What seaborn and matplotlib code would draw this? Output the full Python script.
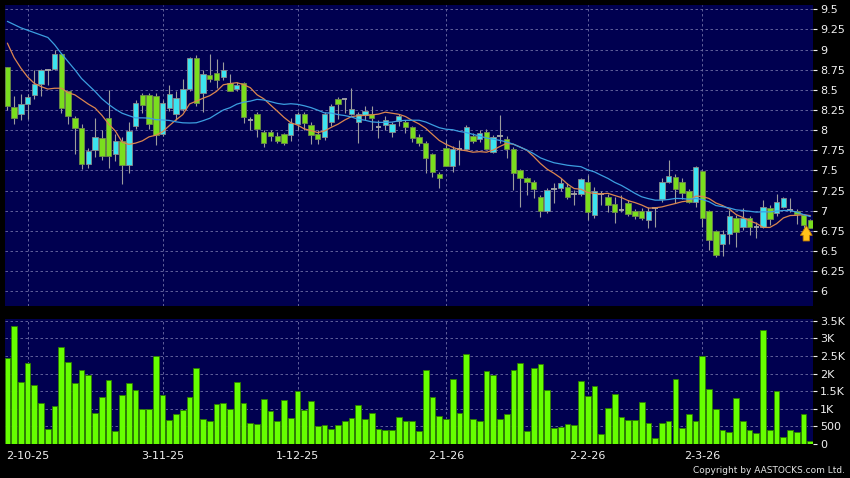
import matplotlib
matplotlib.use('Agg')
import matplotlib.pyplot as plt
import numpy as np
import pandas as pd
import seaborn as sns

# Daily candles (oldest first)
opens = [8.78, 8.29, 8.20, 8.32, 8.43, 8.57, 8.75, 8.76, 8.95, 8.48,
         8.15, 8.03, 7.58, 7.75, 7.90, 8.15, 7.70, 7.87, 7.57, 8.05,
         8.44, 8.44, 8.42, 7.95, 8.27, 8.20, 8.26, 8.51, 8.89, 8.46,
         8.69, 8.71, 8.66, 8.58, 8.51, 8.59, 8.13, 8.20, 7.98, 7.98,
         7.93, 7.95, 7.94, 8.08, 8.20, 8.06, 7.95, 7.92, 8.10, 8.39,
         8.39, 8.20, 8.10, 8.19, 8.20, 8.04, 8.06, 7.98, 8.11, 8.10,
         8.04, 7.92, 7.84, 7.70, 7.46, 7.78, 7.56, 7.77, 7.77, 7.93,
         7.89, 7.98, 7.73, 7.93, 7.89, 7.77, 7.51, 7.40, 7.36, 7.17,
         7.00, 7.27, 7.28, 7.30, 7.21, 7.21, 7.36, 6.95, 7.21, 7.17,
         7.08, 7.01, 7.09, 7.00, 7.00, 6.89, 7.03, 7.15, 7.36, 7.42,
         7.36, 7.25, 7.11, 7.49, 7.00, 6.75, 6.59, 6.71, 6.91, 6.80,
         6.91, 6.80, 6.80, 7.03, 6.97, 7.05, 7.01, 7.00, 6.95, 6.89]
highs = [8.78, 8.42, 8.45, 8.45, 8.75, 8.76, 8.76, 9.00, 8.96, 8.49,
         8.17, 8.08, 7.78, 8.15, 8.00, 8.50, 7.95, 7.92, 8.10, 8.38,
         8.46, 8.46, 8.46, 8.38, 8.56, 8.48, 8.64, 8.91, 8.93, 8.75,
         8.94, 8.88, 8.85, 8.70, 8.60, 8.60, 8.16, 8.23, 8.00, 8.00,
         7.98, 7.97, 8.15, 8.22, 8.22, 8.10, 8.00, 8.22, 8.33, 8.41,
         8.40, 8.52, 8.22, 8.30, 8.30, 8.13, 8.17, 8.10, 8.20, 8.12,
         8.05, 7.95, 7.86, 7.72, 7.48, 7.88, 7.80, 7.88, 8.06, 7.96,
         8.00, 8.02, 7.94, 8.19, 7.93, 7.79, 7.52, 7.42, 7.38, 7.20,
         7.28, 7.34, 7.40, 7.34, 7.26, 7.41, 7.44, 7.30, 7.25, 7.21,
         7.17, 7.19, 7.13, 7.02, 7.03, 7.04, 7.05, 7.40, 7.63, 7.46,
         7.40, 7.27, 7.55, 7.51, 7.01, 6.76, 6.76, 7.01, 6.95, 7.03,
         6.93, 6.86, 7.13, 7.07, 7.21, 7.17, 7.16, 7.02, 6.96, 6.90]
lows = [8.25, 8.08, 8.13, 8.14, 8.39, 8.42, 8.56, 8.75, 8.21, 8.08,
        7.71, 7.52, 7.53, 7.67, 7.63, 7.53, 7.62, 7.33, 7.47, 8.02,
        8.21, 8.02, 7.81, 7.93, 8.24, 8.13, 8.24, 8.48, 8.30, 8.23,
        8.60, 8.52, 8.62, 8.48, 8.48, 8.09, 8.00, 7.91, 7.79, 7.86,
        7.84, 7.82, 7.87, 8.00, 8.00, 7.83, 7.83, 7.88, 8.05, 8.14,
        8.21, 8.19, 7.84, 8.12, 8.00, 7.90, 8.00, 7.92, 8.05, 7.96,
        7.85, 7.80, 7.47, 7.42, 7.28, 7.55, 7.48, 7.57, 7.75, 7.84,
        7.85, 7.76, 7.72, 7.84, 7.65, 7.26, 7.05, 7.20, 7.16, 6.92,
        6.97, 7.10, 7.24, 7.14, 7.07, 7.18, 6.89, 6.91, 7.07, 6.99,
        6.85, 6.98, 6.94, 6.90, 6.88, 6.79, 6.80, 7.11, 7.34, 7.10,
        7.14, 7.09, 7.05, 6.80, 6.51, 6.42, 6.44, 6.59, 6.55, 6.76,
        6.70, 6.66, 6.78, 6.82, 6.94, 7.03, 6.98, 6.84, 6.78, 6.78]
closes = [8.30, 8.15, 8.32, 8.41, 8.57, 8.75, 8.75, 8.94, 8.28, 8.18,
          8.03, 7.58, 7.74, 7.92, 7.68, 7.68, 7.86, 7.57, 7.99, 8.34,
          8.31, 8.08, 7.94, 8.34, 8.45, 8.40, 8.51, 8.89, 8.34, 8.70,
          8.63, 8.62, 8.75, 8.49, 8.56, 8.16, 8.13, 8.01, 7.84, 7.93,
          7.87, 7.84, 8.09, 8.20, 8.09, 7.94, 7.89, 8.20, 8.30, 8.32,
          8.39, 8.26, 8.20, 8.24, 8.15, 8.04, 8.13, 8.07, 8.17, 8.04,
          7.90, 7.84, 7.65, 7.48, 7.40, 7.56, 7.76, 7.77, 8.04, 7.86,
          7.97, 7.77, 7.92, 7.93, 7.77, 7.47, 7.40, 7.36, 7.27, 7.00,
          7.26, 7.27, 7.34, 7.17, 7.21, 7.39, 6.99, 7.25, 7.21, 7.07,
          6.99, 7.01, 6.96, 6.93, 6.91, 7.00, 7.03, 7.36, 7.43, 7.27,
          7.22, 7.11, 7.54, 6.91, 6.64, 6.45, 6.71, 6.93, 6.74, 6.91,
          6.80, 6.80, 7.04, 6.90, 7.11, 7.16, 7.01, 6.96, 6.82, 6.79]
volumes = [2437, 3360, 1771, 2313, 1666, 1171, 428, 1076, 2742, 2342,
           1723, 2104, 1971, 876, 1323, 1818, 371, 1399, 1723, 1542,
           981, 981, 2504, 1399, 685, 866, 971, 1333, 2171, 724,
           647, 1142, 1161, 1000, 1771, 1152, 600, 581, 1276, 942,
           666, 1257, 733, 1514, 971, 1219, 505, 533, 419, 543,
           647, 743, 1095, 714, 885, 438, 409, 390, 762, 666,
           666, 362, 2104, 1342, 809, 714, 1856, 885, 2561, 704,
           657, 2075, 1971, 704, 866, 2094, 2313, 362, 2151, 2266,
           1533, 457, 486, 571, 543, 1780, 1371, 1637, 276, 1028,
           1428, 762, 676, 695, 1200, 590, 171, 600, 647, 1837,
           447, 866, 657, 2513, 1552, 981, 409, 343, 1314, 666,
           409, 305, 3227, 409, 1504, 200, 409, 343, 847, 76]

# moving averages for the first days (window reaches back before the chart)
ma10_head = [9.08, 8.90, 8.77, 8.66, 8.58, 8.54, 8.51, 8.52, 8.52]
ma20_head = [9.35, 9.31, 9.27, 9.24, 9.21, 9.18, 9.15, 9.06, 8.95, 8.85,
             8.75, 8.64, 8.56, 8.48, 8.39, 8.32, 8.26, 8.21, 8.18]

date_ticks = [3, 23, 43, 65, 86, 103]
date_labels = ['2-10-25', '3-11-25', '1-12-25', '2-1-26', '2-2-26', '2-3-26']
price_ticks = [6, 6.25, 6.5, 6.75, 7, 7.25, 7.5, 7.75, 8, 8.25, 8.5, 8.75, 9, 9.25, 9.5]
vol_ticks = [0, 500, 1000, 1500, 2000, 2500, 3000, 3500]
vol_labels = ['0', '500', '1K', '1.5K', '2K', '2.5K', '3K', '3.5K']

df = pd.DataFrame({'open': opens, 'high': highs, 'low': lows,
                   'close': closes, 'volume': volumes})
df['idx'] = np.arange(len(df))
df['ma10'] = df.close.rolling(10).mean()
df['ma20'] = df.close.rolling(20).mean()
df.loc[:len(ma10_head) - 1, 'ma10'] = ma10_head
df.loc[:len(ma20_head) - 1, 'ma20'] = ma20_head

sns.set_style('dark')
plt.rcParams['font.family'] = ['DejaVu Sans']

BG = '#000050'
GRID = '#6e6ea6'
UP = '#3ce4f0'
DOWN = '#7ade1e'
TXT = '#f0f0f0'

fig = plt.figure(figsize=(8.5, 4.78), dpi=100, facecolor='black')
ax = fig.add_axes([0.0059, 0.3598, 0.9506, 0.6297], facecolor=BG)
axv = fig.add_axes([0.0059, 0.0711, 0.9506, 0.2615], facecolor=BG)

# candles
up = df[df.close > df.open]
down = df[df.close < df.open]
flat = df[df.close == df.open]
ax.vlines(df.idx, df.low, df.high, color='#9c9c9c', lw=0.8, zorder=2)
ax.bar(up.idx, up.close - up.open, bottom=up.open, width=0.8,
       color=UP, edgecolor='#8a8a8a', linewidth=0.6, zorder=3)
ax.bar(down.idx, down.open - down.close, bottom=down.close, width=0.8,
       color=DOWN, edgecolor='#6f8a4a', linewidth=0.6, zorder=3)
ax.hlines(flat.close, flat.idx - 0.4, flat.idx + 0.4, color='#a8a8a8', lw=1.3, zorder=3)

sns.lineplot(data=df, x='idx', y='ma10', color='#dc864e', lw=0.9, ax=ax, zorder=4)
sns.lineplot(data=df, x='idx', y='ma20', color='#3c9ee0', lw=0.9, ax=ax, zorder=4)

# marker arrow under the latest candle
last = df.iloc[-1]
ax.annotate('', xy=(last.idx - 0.6, last.close + 0.06),
            xytext=(last.idx - 0.6, last.close - 0.2),
            arrowprops=dict(arrowstyle='simple,head_length=0.7,head_width=0.85,tail_width=0.45',
                            mutation_scale=10, fc='#ffc21a', ec='#c07a00', lw=0.6),
            zorder=5)

ax.set_xlim(-0.35, 119.4)
ax.set_ylim(5.817, 9.553)
ax.set_yticks(price_ticks)
ax.set_yticklabels([f'{t:g}' for t in price_ticks])
ax.set_xticks(date_ticks)
ax.set_xticklabels([])
ax.yaxis.tick_right()

# volume
sns.barplot(data=df, x='idx', y='volume', native_scale=True, color='#66ff00',
            saturation=1, width=0.85, edgecolor='#2e7d00', linewidth=0.6, ax=axv, zorder=3)
axv.set_xlim(-0.35, 119.4)
axv.set_ylim(0, 3550)
axv.set_yticks(vol_ticks)
axv.set_yticklabels(vol_labels)
axv.set_xticks(date_ticks)
axv.set_xticklabels(date_labels)
axv.yaxis.tick_right()
axv.set_xlabel('')
axv.set_ylabel('')
ax.set_xlabel('')
ax.set_ylabel('')

for a in (ax, axv):
    a.set_axisbelow(True)
    a.grid(True, color=GRID, linestyle=(0, (3, 3)), linewidth=0.6)
    for s in a.spines.values():
        s.set_visible(False)
    a.tick_params(axis='y', colors=TXT, labelsize=8, length=3, width=0.8, pad=2, direction='out')
    a.tick_params(axis='x', colors=TXT, labelsize=8, length=3, width=0.8, pad=2, direction='out')
ax.tick_params(axis='x', length=0)

fig.text(0.994, 0.006, 'Copyright by AASTOCKS.com Ltd.', ha='right', va='bottom',
         color='#e6e6e6', fontsize=6.5)

fig.savefig('out.png', dpi=100, facecolor='black')
